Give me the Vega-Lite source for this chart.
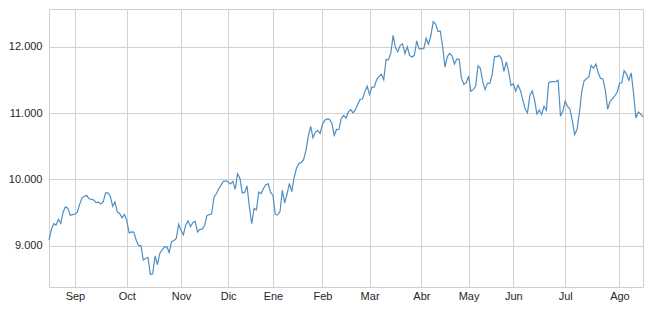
{
  "$schema": "https://vega.github.io/schema/vega-lite/v6.json",
  "autosize": {"type": "none"},
  "width": 594,
  "height": 278,
  "padding": {"left": 49, "top": 9, "right": 7, "bottom": 26},
  "background": "#ffffff",
  "config": {
    "view": {"stroke": "#cfcfcf", "strokeWidth": 1, "fill": "#ffffff"},
    "axis": {
      "labelFont": "Liberation Sans",
      "labelFontSize": 11,
      "labelColor": "#262626",
      "domain": false,
      "ticks": false,
      "grid": true,
      "gridColor": "#d2d2d2",
      "gridWidth": 1,
      "title": null
    }
  },
  "data": {"values": [
    {"t":0,"close":9092},{"t":1,"close":9245},{"t":2,"close":9334},{"t":3,"close":9314},{"t":4,"close":9401},{"t":5,"close":9339},{"t":6,"close":9510},{"t":7,"close":9588},{"t":8,"close":9569},{"t":9,"close":9462},
    {"t":10,"close":9470},{"t":11,"close":9480},{"t":12,"close":9507},{"t":13,"close":9626},{"t":14,"close":9724},{"t":15,"close":9747},{"t":16,"close":9758},{"t":17,"close":9710},{"t":18,"close":9700},{"t":19,"close":9691},
    {"t":20,"close":9651},{"t":21,"close":9660},{"t":22,"close":9632},{"t":23,"close":9661},{"t":24,"close":9799},{"t":25,"close":9799},{"t":26,"close":9749},{"t":27,"close":9595},{"t":28,"close":9661},{"t":29,"close":9510},
    {"t":30,"close":9490},{"t":31,"close":9422},{"t":32,"close":9474},{"t":33,"close":9382},{"t":34,"close":9195},{"t":35,"close":9210},{"t":36,"close":9209},{"t":37,"close":9086},{"t":38,"close":9005},{"t":39,"close":9005},
    {"t":40,"close":8788},{"t":41,"close":8812},{"t":42,"close":8825},{"t":43,"close":8572},{"t":44,"close":8582},{"t":45,"close":8850},{"t":46,"close":8717},{"t":47,"close":8886},{"t":48,"close":8940},{"t":49,"close":8987},
    {"t":50,"close":8988},{"t":51,"close":8902},{"t":52,"close":9068},{"t":53,"close":9082},{"t":54,"close":9114},{"t":55,"close":9327},{"t":56,"close":9235},{"t":57,"close":9166},{"t":58,"close":9315},{"t":59,"close":9377},
    {"t":60,"close":9291},{"t":61,"close":9351},{"t":62,"close":9369},{"t":63,"close":9210},{"t":64,"close":9248},{"t":65,"close":9252},{"t":66,"close":9306},{"t":67,"close":9456},{"t":68,"close":9472},{"t":69,"close":9483},
    {"t":70,"close":9732},{"t":71,"close":9785},{"t":72,"close":9861},{"t":73,"close":9915},{"t":74,"close":9974},{"t":75,"close":9980},{"t":76,"close":9963},{"t":77,"close":9934},{"t":78,"close":9971},{"t":79,"close":9851},
    {"t":80,"close":10087},{"t":81,"close":10014},{"t":82,"close":9799},{"t":83,"close":9800},{"t":84,"close":9903},{"t":85,"close":9594},{"t":86,"close":9334},{"t":87,"close":9563},{"t":88,"close":9544},{"t":89,"close":9811},
    {"t":90,"close":9787},{"t":91,"close":9865},{"t":92,"close":9922},{"t":93,"close":9936},{"t":94,"close":9806},{"t":95,"close":9764},{"t":96,"close":9473},{"t":97,"close":9469},{"t":98,"close":9518},{"t":99,"close":9837},
    {"t":100,"close":9648},{"t":101,"close":9781},{"t":102,"close":9941},{"t":103,"close":9817},{"t":104,"close":10032},{"t":105,"close":10168},{"t":106,"close":10242},{"t":107,"close":10257},{"t":108,"close":10299},{"t":109,"close":10435},
    {"t":110,"close":10649},{"t":111,"close":10798},{"t":112,"close":10628},{"t":113,"close":10710},{"t":114,"close":10738},{"t":115,"close":10694},{"t":116,"close":10828},{"t":117,"close":10891},{"t":118,"close":10911},{"t":119,"close":10905},
    {"t":120,"close":10846},{"t":121,"close":10664},{"t":122,"close":10753},{"t":123,"close":10752},{"t":124,"close":10919},{"t":125,"close":10963},{"t":126,"close":10924},{"t":127,"close":11014},{"t":128,"close":11050},{"t":129,"close":11001},
    {"t":130,"close":11050},{"t":131,"close":11131},{"t":132,"close":11206},{"t":133,"close":11211},{"t":134,"close":11325},{"t":135,"close":11402},{"t":136,"close":11280},{"t":137,"close":11391},{"t":138,"close":11390},{"t":139,"close":11504},
    {"t":140,"close":11551},{"t":141,"close":11582},{"t":142,"close":11500},{"t":143,"close":11806},{"t":144,"close":11799},{"t":145,"close":11901},{"t":146,"close":12167},{"t":147,"close":11980},{"t":148,"close":11922},{"t":149,"close":12018},
    {"t":150,"close":12039},{"t":151,"close":11895},{"t":152,"close":11998},{"t":153,"close":11865},{"t":154,"close":11843},{"t":155,"close":11868},{"t":156,"close":12086},{"t":157,"close":11966},{"t":158,"close":11968},{"t":159,"close":11967},
    {"t":160,"close":12123},{"t":161,"close":12035},{"t":162,"close":12166},{"t":163,"close":12375},{"t":164,"close":12339},{"t":165,"close":12227},{"t":166,"close":12231},{"t":167,"close":11999},{"t":168,"close":11689},{"t":169,"close":11850},
    {"t":170,"close":11896},{"t":171,"close":11860},{"t":172,"close":11737},{"t":173,"close":11811},{"t":174,"close":11812},{"t":175,"close":11520},{"t":176,"close":11432},{"t":177,"close":11454},{"t":178,"close":11553},{"t":179,"close":11327},
    {"t":180,"close":11351},{"t":181,"close":11402},{"t":182,"close":11710},{"t":183,"close":11674},{"t":184,"close":11472},{"t":185,"close":11351},{"t":186,"close":11447},{"t":187,"close":11447},{"t":188,"close":11574},{"t":189,"close":11853},
    {"t":190,"close":11848},{"t":191,"close":11864},{"t":192,"close":11815},{"t":193,"close":11625},{"t":194,"close":11771},{"t":195,"close":11622},{"t":196,"close":11413},{"t":197,"close":11437},{"t":198,"close":11328},{"t":199,"close":11420},
    {"t":200,"close":11340},{"t":201,"close":11197},{"t":202,"close":11064},{"t":203,"close":11001},{"t":204,"close":11265},{"t":205,"close":11333},{"t":206,"close":11197},{"t":207,"close":10985},{"t":208,"close":11044},{"t":209,"close":10978},
    {"t":210,"close":11101},{"t":211,"close":11041},{"t":212,"close":11461},{"t":213,"close":11472},{"t":214,"close":11471},{"t":215,"close":11473},{"t":216,"close":11492},{"t":217,"close":10950},{"t":218,"close":11030},{"t":219,"close":11180},
    {"t":220,"close":11099},{"t":221,"close":11058},{"t":222,"close":10890},{"t":223,"close":10676},{"t":224,"close":10747},{"t":225,"close":10996},{"t":226,"close":11316},{"t":227,"close":11485},{"t":228,"close":11516},{"t":229,"close":11539},
    {"t":230,"close":11716},{"t":231,"close":11673},{"t":232,"close":11735},{"t":233,"close":11603},{"t":234,"close":11520},{"t":235,"close":11512},{"t":236,"close":11347},{"t":237,"close":11057},{"t":238,"close":11173},{"t":239,"close":11212},
    {"t":240,"close":11258},{"t":241,"close":11308},{"t":242,"close":11444},{"t":243,"close":11456},{"t":244,"close":11636},{"t":245,"close":11585},{"t":246,"close":11490},{"t":247,"close":11604},{"t":248,"close":11293},{"t":249,"close":10925},
    {"t":250,"close":11014},{"t":251,"close":10985},{"t":252,"close":10940}
  ]},
  "mark": {"type": "line", "color": "#4f8fc4", "strokeWidth": 1.2, "interpolate": "linear"},
  "encoding": {
    "x": {
      "field": "t",
      "type": "quantitative",
      "scale": {"domain": [0, 252], "nice": false, "zero": false},
      "axis": {
        "values": [11, 33, 56, 76, 95, 116, 136, 158, 178, 197, 219, 242],
        "labelExpr": "['Sep','Oct','Nov','Dic','Ene','Feb','Mar','Abr','May','Jun','Jul','Ago'][indexof([11,33,56,76,95,116,136,158,178,197,219,242], datum.value)]",
        "labelPadding": 3,
        "labelFlush": false,
        "labelOverlap": false
      }
    },
    "y": {
      "field": "close",
      "type": "quantitative",
      "scale": {"domain": [8382, 12565], "nice": false, "zero": false},
      "axis": {
        "values": [9000, 10000, 11000, 12000],
        "labelExpr": "replace(format(datum.value, ','), ',', '.')",
        "labelPadding": 7
      }
    }
  }
}
